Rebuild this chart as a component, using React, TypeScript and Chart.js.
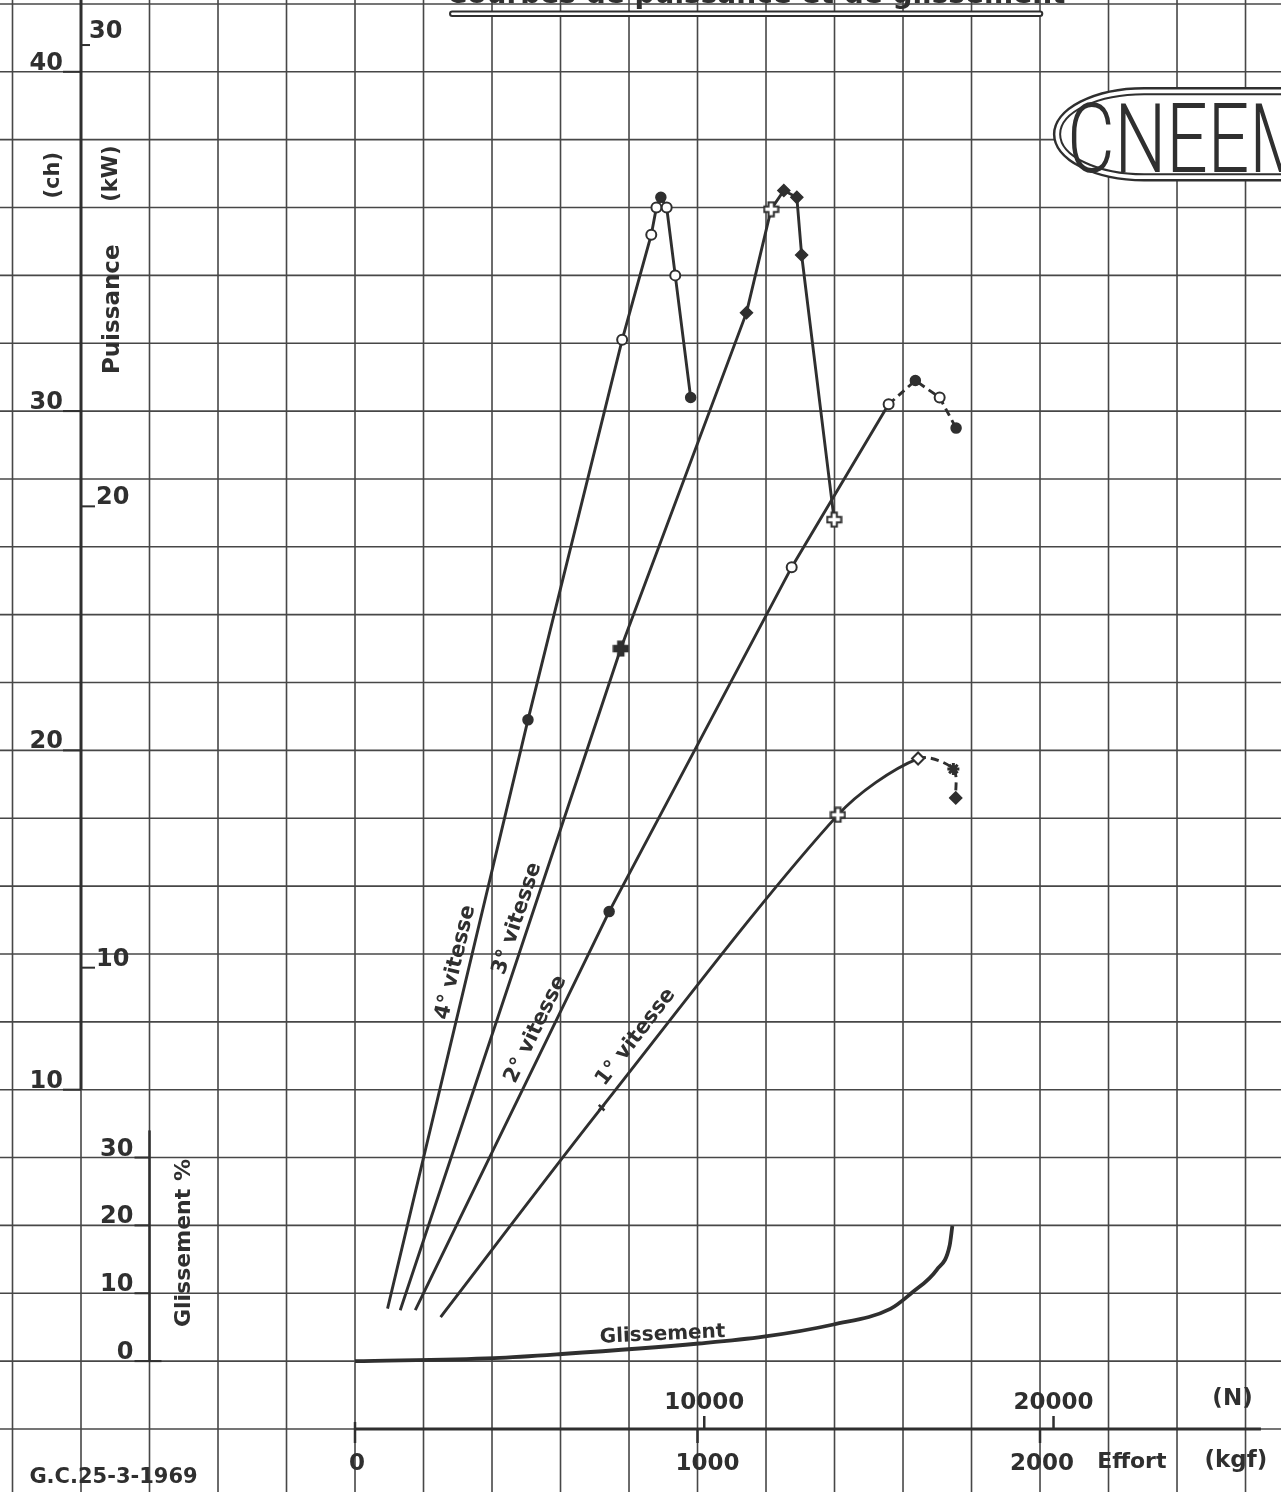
import React, { useEffect, useRef } from "react";
import { Chart, registerables } from "chart.js";

Chart.register(...registerables);

// Effort at the drawbar (kgf) and power (ch) measured in each gear
const effort4 = [95, 505, 780, 865, 880, 893, 910, 935, 980];
const power4 = [3.55, 20.9, 32.1, 35.2, 36.0, 36.3, 36.0, 34.0, 30.4];
const marks4 = ["none", "dot", "ring", "ring", "ring", "dot", "ring", "ring", "dot"];

const effort3 = [132, 776, 1143, 1215, 1252, 1290, 1304, 1399];
const power3 = [3.5, 23.0, 32.9, 35.95, 36.5, 36.3, 34.6, 26.8];
const marks3 = ["none", "plus", "diamond", "plusOpen", "diamond", "diamond", "diamond", "plusOpen"];

const effort2 = [176, 742, 1275, 1558, 1636, 1707, 1755];
const power2 = [3.5, 15.25, 25.4, 30.2, 30.9, 30.4, 29.5];
const marks2 = ["none", "dot", "ring", "ring", "dot", "ring", "dot"];

const effort1 = [250, 720, 1410, 1644, 1747, 1754];
const power1 = [3.3, 9.47, 18.1, 19.76, 19.45, 18.6];
const marks1 = ["none", "x", "plusOpen", "diamondOpen", "star", "diamond"];

// Wheel slip (%) against effort (kgf)
const slipEffort = [0, 406, 604, 1004, 1193, 1397, 1563, 1624, 1699, 1736, 1744];
const slipPercent = [0, 0.45, 1.05, 2.6, 3.6, 5.4, 7.7, 10.0, 13.5, 17.0, 19.9];

// Axis graduations
const chTicks = [10, 20, 30, 40];
const kwTicks = [10, 20, 30];
const slipTicks = [0, 10, 20, 30];
const kgfTicks = [0, 1000, 2000];
const newtonTicks = [10000, 20000];

const gearLabels = ["4° vitesse", "3° vitesse", "2° vitesse", "1° vitesse"];
const TITLE = "Courbes de puissance et de glissement";

const INK = "#2f2f2f";
const GRID = "#474747";
const FONT = '"DejaVu Sans", "Liberation Sans", sans-serif';

const WIDTH = 1281;
const HEIGHT = 1492;

// Visible extent of the squared sheet
const EFFORT_MIN = -1036.5;
const EFFORT_MAX = 2703.6;
const POWER_MIN = -1.857;
const POWER_MAX = 42.116;
const CH_PER_KW = 1.35962;
const KGF_PER_N = 1 / 9.80665;
// slip scale: 0 % lies on the 2 ch line, 10 % per 2 ch
const slipOf = (ch: number) => (ch - 2) * 5;

function plusCanvas(open: boolean) {
  const c = document.createElement("canvas");
  c.width = 17;
  c.height = 17;
  const g = c.getContext("2d")!;
  const a = 5.8, b = 11.2, lo = 1.5, hi = 15.5;
  g.beginPath();
  g.moveTo(a, lo); g.lineTo(b, lo); g.lineTo(b, a); g.lineTo(hi, a); g.lineTo(hi, b);
  g.lineTo(b, b); g.lineTo(b, hi); g.lineTo(a, hi); g.lineTo(a, b); g.lineTo(lo, b);
  g.lineTo(lo, a); g.lineTo(a, a); g.closePath();
  g.fillStyle = open ? "#fff" : INK;
  g.fill();
  g.lineWidth = 2;
  g.strokeStyle = INK;
  g.stroke();
  return c;
}

function markerStyles(marks: string[]) {
  const plusFilled = plusCanvas(false);
  const plusOpen = plusCanvas(true);
  const style: any[] = [], radius: number[] = [], bg: string[] = [], bw: number[] = [];
  for (const m of marks) {
    switch (m) {
      case "dot": style.push("circle"); radius.push(5); bg.push(INK); bw.push(1.5); break;
      case "ring": style.push("circle"); radius.push(5); bg.push("#fff"); bw.push(2); break;
      case "plus": style.push(plusFilled); radius.push(7); bg.push(INK); bw.push(2); break;
      case "plusOpen": style.push(plusOpen); radius.push(7); bg.push("#fff"); bw.push(2); break;
      case "diamond": style.push("rectRot"); radius.push(6); bg.push(INK); bw.push(1.5); break;
      case "diamondOpen": style.push("rectRot"); radius.push(6); bg.push("#fff"); bw.push(2); break;
      case "x": style.push("crossRot"); radius.push(4); bg.push(INK); bw.push(2.5); break;
      case "star": style.push("star"); radius.push(6); bg.push(INK); bw.push(3); break;
      default: style.push("circle"); radius.push(0); bg.push(INK); bw.push(0);
    }
  }
  return {
    pointStyle: style,
    pointRadius: radius,
    pointBackgroundColor: bg,
    pointBorderColor: INK,
    pointBorderWidth: bw,
  };
}

function gearDataset(effort: number[], power: number[], marks: string[], extra: any = {}) {
  return {
    data: effort.map((e, i) => ({ x: e, y: power[i] })),
    borderColor: INK,
    borderWidth: 2.9,
    tension: 0,
    yAxisID: "y",
    ...markerStyles(marks),
    ...extra,
  };
}

function put(
  ctx: CanvasRenderingContext2D,
  s: string,
  x: number,
  y: number,
  font: string,
  align: CanvasTextAlign,
  baseline: CanvasTextBaseline,
  angle = 0,
  maxWidth?: number
) {
  ctx.save();
  ctx.translate(x, y);
  ctx.rotate(angle);
  ctx.font = font;
  ctx.textAlign = align;
  ctx.textBaseline = baseline;
  ctx.fillStyle = INK;
  if (maxWidth) ctx.fillText(s, 0, 0, maxWidth);
  else ctx.fillText(s, 0, 0);
  ctx.restore();
}

function seg(ctx: CanvasRenderingContext2D, x1: number, y1: number, x2: number, y2: number, w: number) {
  ctx.lineWidth = w;
  ctx.beginPath();
  ctx.moveTo(x1, y1);
  ctx.lineTo(x2, y2);
  ctx.stroke();
}

const sheet = {
  id: "sheet",
  beforeDatasetsDraw(chart: any) {
    const { ctx, scales } = chart;
    const X = (v: number) => scales.x.getPixelForValue(v);
    const Y = (v: number) => scales.y.getPixelForValue(v);
    const G = (v: number) => scales.yG.getPixelForValue(v);
    const K = (v: number) => scales.yKW.getPixelForValue(v);
    const W = chart.width, H = chart.height;

    ctx.save();
    ctx.fillStyle = "#fff";
    ctx.fillRect(0, 0, W, H);

    // squared paper, 200 kgf by 2 ch
    ctx.strokeStyle = GRID;
    for (let k = -1000; k <= 2600; k += 200) seg(ctx, X(k), 0, X(k), H, 1.6);
    for (let c = -2; c <= 42; c += 2) seg(ctx, 0, Y(c), W, Y(c), 1.6);

    ctx.strokeStyle = INK;
    ctx.lineCap = "butt";
    const bold = (px: number) => `bold ${px}px ${FONT}`;

    // power axis (ch on the left, kW on the right)
    const ax = X(-800);
    seg(ctx, ax, Y(10), ax, 0, 3);
    for (const c of chTicks) {
      seg(ctx, ax - 18, Y(c), ax, Y(c), 2);
      put(ctx, String(c), ax - 18, Y(c) - 2, bold(24), "right", "alphabetic");
    }
    for (const k of kwTicks) {
      const top = k === 30;
      seg(ctx, ax, K(k), ax + (top ? 9 : 14), K(k), 2);
      put(ctx, String(k), ax + (top ? 8 : 15), K(k) - (top ? 7 : 2), bold(24), "left", "alphabetic");
    }
    put(ctx, "(ch)", ax - 27, Y(36.95), bold(21), "center", "middle", -Math.PI / 2);
    put(ctx, "(kW)", ax + 31, Y(37), bold(21), "center", "middle", -Math.PI / 2);
    put(ctx, "Puissance", ax + 32, Y(33.0), bold(23), "center", "middle", -Math.PI / 2);

    // slip axis
    const gx = X(-600);
    seg(ctx, gx, G(0), gx, G(34), 2.5);
    for (const g of slipTicks) {
      seg(ctx, gx - 15, G(g), g === 0 ? gx + 12 : gx, G(g), 2);
      put(ctx, String(g), gx - 16, G(g) - 2, bold(24), "right", "alphabetic");
    }
    put(ctx, "Glissement %", gx + 35, G(17.4), bold(22), "center", "middle", -Math.PI / 2);

    // effort axis (kgf below, N above)
    const y0 = Y(0);
    seg(ctx, X(0), y0, X(2645), y0, 3);
    for (const k of kgfTicks) {
      seg(ctx, X(k), k === 0 ? y0 - 7 : y0, X(k), y0 + 14, 2.5);
      put(ctx, String(k), X(k) + (k === 1000 ? 10 : 2), y0 + 35, bold(23), "center", "middle");
    }
    for (const n of newtonTicks) {
      seg(ctx, X(n * KGF_PER_N), y0 - 13, X(n * KGF_PER_N), y0, 2.5);
      put(ctx, String(n), X(n * KGF_PER_N), y0 - 26, bold(23), "center", "middle");
    }
    put(ctx, "(N)", X(2562), y0 - 30, bold(23), "center", "middle");
    put(ctx, "Effort", X(2268), y0 + 33, bold(22), "center", "middle");
    put(ctx, "(kgf)", X(2572), y0 + 32, bold(23), "center", "middle");
    put(ctx, "G.C.25-3-1969", X(-705), y0 + 49, bold(21), "center", "middle");

    // gear names laid along their lines
    const gears = [
      { e: effort4, p: power4, at: [294, 13.75] },
      { e: effort3, p: power3, at: [473.6, 15.04] },
      { e: effort2, p: power2, at: [527.6, 11.78] },
      { e: effort1, p: power1, at: [820, 11.55] },
    ];
    gears.forEach((g, i) => {
      const ang = Math.atan2(Y(g.p[1]) - Y(g.p[0]), X(g.e[1]) - X(g.e[0]));
      put(ctx, gearLabels[i], X(g.at[0]), Y(g.at[1]), bold(21), "center", "middle", ang);
    });
    put(ctx, "Glissement", X(898), G(3.9), bold(20), "center", "middle", -0.045);

    // heading, cut by the top edge, with its double rule
    put(ctx, TITLE, X(1171), Y(42.02), bold(28), "center", "alphabetic", 0, X(2146) - X(196));
    ctx.lineCap = "round";
    seg(ctx, X(284), Y(41.71), X(2000), Y(41.71), 6.5);
    ctx.strokeStyle = "#fff";
    seg(ctx, X(284), Y(41.71), X(2000), Y(41.71), 2.4);
    ctx.strokeStyle = INK;
    ctx.lineCap = "butt";

    // CNEEMA cartouche
    const cx = X(2304), cy = Y(38.16);
    const cartouche = (rx: number, ry: number) => {
      ctx.beginPath();
      ctx.ellipse(cx, cy, rx, ry, 0, Math.PI / 2, Math.PI * 1.5);
      ctx.lineTo(W + 20, cy - ry);
      ctx.lineTo(W + 20, cy + ry);
      ctx.closePath();
    };
    cartouche(90, 46);
    ctx.fillStyle = "#fff";
    ctx.fill();
    ctx.lineWidth = 2.5;
    ctx.stroke();
    cartouche(84, 40);
    ctx.lineWidth = 2;
    ctx.stroke();
    ctx.save();
    ctx.translate(cx - 77, cy + 38);
    ctx.scale(0.76, 1);
    ctx.font = `300 96px Roboto, "Liberation Sans", sans-serif`;
    ctx.textAlign = "left";
    ctx.textBaseline = "alphabetic";
    ctx.fillStyle = INK;
    ctx.fillText("CNEEMA", 0, 0);
    ctx.restore();

    ctx.restore();
  },
};

export default function App() {
  const ref = useRef<HTMLCanvasElement | null>(null);

  useEffect(() => {
    if (!ref.current) return;
    const chart = new Chart(ref.current, {
      type: "line",
      data: {
        datasets: [
          gearDataset(effort4, power4, marks4),
          gearDataset(effort3, power3, marks3),
          gearDataset(effort2, power2, marks2, {
            segment: { borderDash: (c: any) => (c.p0DataIndex >= 3 ? [8, 5] : undefined) },
          }),
          gearDataset(effort1, power1, marks1, {
            tension: 0.3,
            segment: { borderDash: (c: any) => (c.p0DataIndex >= 3 ? [8, 5] : undefined) },
          }),
          {
            data: slipEffort.map((e, i) => ({ x: e, y: slipPercent[i] })),
            yAxisID: "yG",
            borderColor: INK,
            borderWidth: 3.8,
            pointRadius: 0,
            cubicInterpolationMode: "monotone",
          },
        ] as any,
      },
      options: {
        responsive: false,
        animation: false,
        events: [],
        layout: { padding: 0, autoPadding: false },
        plugins: { legend: { display: false }, tooltip: { enabled: false } },
        scales: {
          x: { type: "linear", min: EFFORT_MIN, max: EFFORT_MAX, display: false },
          y: { type: "linear", min: POWER_MIN, max: POWER_MAX, display: false },
          yKW: { type: "linear", min: POWER_MIN / CH_PER_KW, max: POWER_MAX / CH_PER_KW, display: false },
          yG: { type: "linear", min: slipOf(POWER_MIN), max: slipOf(POWER_MAX), display: false },
        },
      },
      plugins: [sheet],
    });
    return () => chart.destroy();
  }, []);

  return (
    <div style={{ position: "absolute", left: 0, top: 0, width: WIDTH, height: HEIGHT, background: "#fff" }}>
      <canvas ref={ref} width={WIDTH} height={HEIGHT} style={{ display: "block" }} />
    </div>
  );
}
